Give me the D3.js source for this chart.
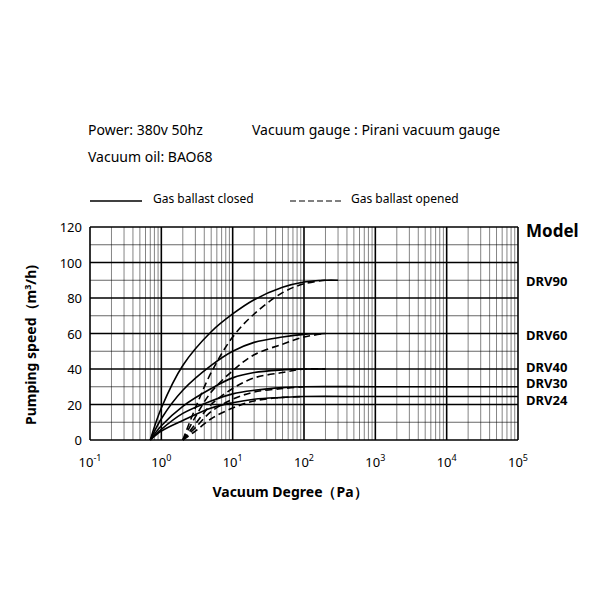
<!DOCTYPE html>
<html><head><meta charset="utf-8">
<script src="https://cdn.jsdelivr.net/npm/d3@7"></script>
<style>body{margin:0;background:#fff}text{font-family:"Noto Sans",sans-serif}</style>
</head><body><svg id="c" width="600" height="600"></svg>
<script>
const xDecades = [-1, 0, 1, 2, 3, 4, 5];
const yTicks = [0, 20, 40, 60, 80, 100, 120];
const models = ["DRV90", "DRV60", "DRV40", "DRV30", "DRV24"];
const solid = [
  [[0.7,0],[1,18],[2,42],[5,61],[10,71],[20,79],[50,86],[100,89],[200,90],[300,90]],
  [[0.7,0],[1,12],[2,28],[5,42],[10,50],[20,55],[50,58],[100,59.5],[200,60]],
  [[0.7,0],[1,8],[2,19],[5,29],[10,35],[20,38],[50,39.5],[100,40],[200,40]],
  [[0.7,0],[1,6],[2,15],[5,22],[10,26],[20,28],[50,29.5],[100,30],[1000,30],[100000,30]],
  [[0.7,0],[1,5],[2,11],[5,18],[10,21],[20,23],[50,24],[100,24.5],[1000,24.5],[100000,24.5]]
];
const dashed = [
  [[2,0],[3,18],[5,38],[10,58],[20,71],[50,83],[100,88],[200,90]],
  [[2,0],[3,13],[5,27],[10,39],[20,48],[50,54],[100,58],[200,60]],
  [[2,0],[3,9],[5,20],[10,29],[20,35],[50,38],[100,40],[200,40]],
  [[2,0],[3,7],[5,16],[10,23],[20,27],[50,29],[100,30]],
  [[2,0],[3,5],[5,12],[10,18],[20,22],[50,24],[100,24.5]]
];

const svg = d3.select("#c");
const x = d3.scaleLog().domain([0.1, 1e5]).range([90, 518]);
const y = d3.scaleLinear().domain([0, 120]).range([440, 227]);
const g = svg.append("g");

for (let d = -1; d < 5; d++) {
  for (let k = 2; k <= 9; k++) {
    const v = k * Math.pow(10, d);
    g.append("line").attr("x1", x(v)).attr("x2", x(v)).attr("y1", y(0)).attr("y2", y(120))
      .attr("stroke", "#333").attr("stroke-width", 0.6);
  }
}
xDecades.forEach(d => {
  const v = Math.pow(10, d);
  g.append("line").attr("x1", x(v)).attr("x2", x(v)).attr("y1", y(0)).attr("y2", y(120))
    .attr("stroke", "#000").attr("stroke-width", 1.6);
});
d3.range(0, 121, 10).forEach(v => {
  g.append("line").attr("x1", x(0.1)).attr("x2", x(1e5)).attr("y1", y(v)).attr("y2", y(v))
    .attr("stroke", "#000").attr("stroke-width", v % 20 === 0 ? 1.6 : 0.6);
});

yTicks.forEach(v => {
  svg.append("text").attr("x", 82).attr("y", y(v) + 5).attr("text-anchor", "end")
    .attr("font-size", 13).text(v);
});
xDecades.forEach(d => {
  const t = svg.append("text").attr("x", x(Math.pow(10, d))).attr("y", 467)
    .attr("text-anchor", "middle").attr("font-size", 13);
  t.append("tspan").text("10");
  t.append("tspan").attr("dy", -6).attr("font-size", 9).text(d);
});

const line = d3.line().x(d => x(d[0])).y(d => y(d[1])).curve(d3.curveCatmullRom.alpha(0.5));
solid.forEach(s => svg.append("path").attr("d", line(s)).attr("fill", "none")
  .attr("stroke", "#000").attr("stroke-width", 1.6));
dashed.forEach(s => svg.append("path").attr("d", line(s)).attr("fill", "none")
  .attr("stroke", "#000").attr("stroke-width", 1.6).attr("stroke-dasharray", "7,4"));

svg.append("text").attr("x", 526).attr("y", 237).attr("font-size", 17)
  .attr("font-weight", "bold").text("Model");
const labelY = [281, 335, 367, 383, 400];
models.forEach((m, i) => svg.append("text").attr("x", 526).attr("y", labelY[i] + 5)
  .attr("font-size", 13).attr("font-weight", "bold").text(m));

svg.append("text").attr("x", 290).attr("y", 497).attr("text-anchor", "middle")
  .attr("font-size", 14).attr("font-weight", "bold").text("Vacuum Degree（Pa）");
const yt = svg.append("text").attr("transform", "translate(36,345) rotate(-90)")
  .attr("text-anchor", "middle").attr("font-size", 14).attr("font-weight", "bold");
yt.append("tspan").text("Pumping speed（m");
yt.append("tspan").attr("dy", -5).attr("font-size", 9).text("3");
yt.append("tspan").attr("dy", 5).text("/h)");

svg.append("text").attr("x", 88).attr("y", 135).attr("font-size", 14).text("Power: 380v 50hz");
svg.append("text").attr("x", 252).attr("y", 135).attr("font-size", 14).text("Vacuum gauge : Pirani vacuum gauge");
svg.append("text").attr("x", 88).attr("y", 162).attr("font-size", 14).text("Vacuum oil: BAO68");

svg.append("line").attr("x1", 90).attr("x2", 142).attr("y1", 201).attr("y2", 201)
  .attr("stroke", "#000").attr("stroke-width", 1.5);
svg.append("text").attr("x", 153).attr("y", 203).attr("font-size", 12).text("Gas ballast closed");
svg.append("line").attr("x1", 290).attr("x2", 342).attr("y1", 201).attr("y2", 201)
  .attr("stroke", "#000").attr("stroke-width", 1).attr("stroke-dasharray", "6,3");
svg.append("text").attr("x", 351).attr("y", 203).attr("font-size", 12).text("Gas ballast opened");
</script></body></html>
